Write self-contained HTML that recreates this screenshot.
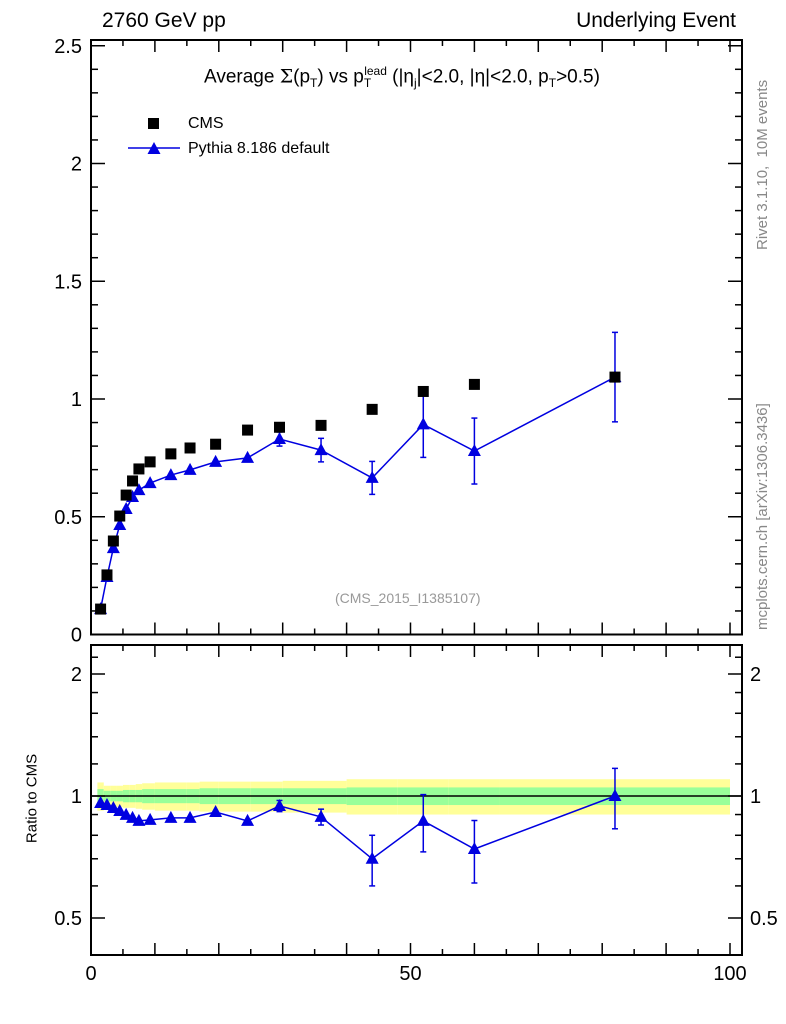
<!DOCTYPE html>
<html><head><meta charset="utf-8"><style>
body{margin:0;background:#fff;}
svg{display:block;font-family:"Liberation Sans",sans-serif;}
</style></head><body>
<svg id="c" width="786" height="1024"></svg>
<script>
const xVals=[1.5,2.5,3.5,4.5,5.5,6.5,7.5,9.25,12.5,15.5,19.5,24.5,29.5,36,44,52,60,82];
const cmsVals=[0.108,0.253,0.397,0.503,0.592,0.652,0.703,0.733,0.767,0.792,0.808,0.868,0.880,0.888,0.956,1.032,1.062,1.093];
const pyVals=[0.108,0.244,0.367,0.465,0.533,0.584,0.613,0.643,0.677,0.699,0.733,0.750,0.830,0.783,0.665,0.892,0.779,1.093];
const pyErr=[0,0,0,0,0,0,0,0,0,0,0,0,0.03,0.05,0.07,0.14,0.14,0.19];
const ratioVals=[0.961,0.950,0.934,0.918,0.898,0.883,0.868,0.873,0.883,0.883,0.913,0.868,0.945,0.888,0.70,0.868,0.74,1.0];
const ratioErr=[0,0,0,0,0,0,0,0,0,0,0,0,0.03,0.04,0.10,0.14,0.13,0.17];
const binEdges=[1,2,3,4,5,6,7,8,10,15,17,20,25,30,40,48,56,64,100];
const bandYel=[0.08,0.06,0.06,0.06,0.065,0.065,0.07,0.075,0.08,0.08,0.085,0.085,0.085,0.09,0.10,0.10,0.10,0.10];
const bandGrn=[0.04,0.03,0.03,0.03,0.035,0.035,0.035,0.04,0.04,0.04,0.045,0.045,0.045,0.045,0.05,0.05,0.05,0.05];
const mainTicks=[0.5,1,1.5,2,2.5];
const ratioTicks=[0.5,1,2];
const xTicks=[0,50,100];

const svg=document.getElementById('c');const NS='http://www.w3.org/2000/svg';
function mk(t,a,p){const e=document.createElementNS(NS,t);for(const k in a)e.setAttribute(k,a[k]);(p||svg).appendChild(e);return e;}
const L=91,R=742,MT=40,MB=634.5,RT=645,RB=955;
const X=v=>L+v*6.39;
const Y=v=>634.5-v*235.5;
const YR=v=>796-122*Math.log2(v);

const bands=mk('g',{});
for(let i=0;i<xVals.length;i++){
  const x1=X(binEdges[i]),x2=X(binEdges[i+1]);
  mk('rect',{x:x1,y:YR(1+bandYel[i]),width:x2-x1,height:YR(1-bandYel[i])-YR(1+bandYel[i]),fill:'#ffff99'},bands);
  mk('rect',{x:x1,y:YR(1+bandGrn[i]),width:x2-x1,height:YR(1-bandGrn[i])-YR(1+bandGrn[i]),fill:'#99ff99'},bands);
}
mk('line',{x1:L,x2:R,y1:YR(1),y2:YR(1),stroke:'#000','stroke-width':1.5});

for(const [t,b,n] of [[MT,MB,'main-frame'],[RT,RB,'ratio-frame']]){
  const r=mk('rect',{x:L,y:t,width:R-L,height:b-t,fill:'none',stroke:'#000','stroke-width':2});
  
}
for(let v=0;v<=100;v+=5){const maj=v%10==0;
  for(const yb of [MB,RB]){mk('line',{x1:X(v),x2:X(v),y1:yb,y2:yb-(maj?12:6),stroke:'#000','stroke-width':1.5});
  mk('line',{x1:X(v),x2:X(v),y1:yb===MB?MT:RT,y2:(yb===MB?MT:RT)+(maj?12:6),stroke:'#000','stroke-width':1.5});}
}
xTicks.forEach(v=>{const t=mk('text',{x:X(v),y:980,'text-anchor':'middle','font-size':20});t.textContent=v;
});
for(let v=0;v<=2.5001;v+=0.1){const maj=Math.abs(v*2-Math.round(v*2))<1e-6;
  mk('line',{x1:L,x2:L+(maj?14:7),y1:Y(v),y2:Y(v),stroke:'#000','stroke-width':1.5});
  mk('line',{x1:R,x2:R-(maj?14:7),y1:Y(v),y2:Y(v),stroke:'#000','stroke-width':1.5});}
mainTicks.concat([0]).forEach(v=>{const t=mk('text',{x:82,y:Y(v)+7,'text-anchor':'end','font-size':20});t.textContent=v;
});
[0.4,0.5,0.6,0.7,0.8,0.9,1,1.2,1.4,1.6,1.8,2,2.2].forEach(v=>{const y=YR(v);if(y<RT||y>RB)return;const maj=[0.5,1,2].includes(v);
  mk('line',{x1:L,x2:L+(maj?14:7),y1:y,y2:y,stroke:'#000','stroke-width':1.5});
  mk('line',{x1:R,x2:R-(maj?14:7),y1:y,y2:y,stroke:'#000','stroke-width':1.5});});
ratioTicks.forEach(v=>{for(const [x,a] of [[82,'end'],[750,'start']]){const t=mk('text',{x:x,y:YR(v)+7,'text-anchor':a,'font-size':20});t.textContent=v;
}});

const pm=mk('g',{});
mk('polyline',{points:xVals.map((x,i)=>X(x)+','+Y(pyVals[i])).join(' '),fill:'none',stroke:'#0000e0','stroke-width':1.5},pm);
const cg=mk('g',{});
xVals.forEach((x,i)=>mk('rect',{x:X(x)-5.5,y:Y(cmsVals[i])-5.5,width:11,height:11,fill:'#000'},cg));
function tri(g,x,y){mk('polygon',{points:`${x},${y-7} ${x-6.5},${y+5} ${x+6.5},${y+5}`,fill:'#0000e0'},g);}
function err(g,x,y1,y2){if(Math.abs(y2-y1)<2)return;mk('line',{x1:x,x2:x,y1:y1,y2:y2,stroke:'#0000e0','stroke-width':1.5},g);
mk('line',{x1:x-3,x2:x+3,y1:y1,y2:y1,stroke:'#0000e0','stroke-width':1.5},g);mk('line',{x1:x-3,x2:x+3,y1:y2,y2:y2,stroke:'#0000e0','stroke-width':1.5},g);}
xVals.forEach((x,i)=>{err(pm,X(x),Y(pyVals[i]+pyErr[i]),Y(pyVals[i]-pyErr[i]));tri(pm,X(x),Y(pyVals[i]));});
const rg=mk('g',{});
mk('polyline',{points:xVals.map((x,i)=>X(x)+','+YR(ratioVals[i])).join(' '),fill:'none',stroke:'#0000e0','stroke-width':1.5},rg);
xVals.forEach((x,i)=>{err(rg,X(x),YR(ratioVals[i]+ratioErr[i]),YR(ratioVals[i]-ratioErr[i]));tri(rg,X(x),YR(ratioVals[i]));});

mk('rect',{x:148,y:118,width:11,height:11,fill:'#000'});
mk('line',{x1:128,x2:180,y1:148,y2:148,stroke:'#0000e0','stroke-width':1.5});tri(svg,154,149);
</script>
<div style="position:absolute;left:0;top:0;width:786px;height:1024px;font-family:'Liberation Sans',sans-serif;pointer-events:none">
<div style="position:absolute;left:102px;top:9px;font-size:21px">2760 GeV pp</div>
<div style="position:absolute;right:50px;top:9px;font-size:21px">Underlying Event</div>
<div style="position:absolute;left:204px;top:64px;font-size:19px;white-space:nowrap">Average <span style="font-family:'DejaVu Serif',serif">Σ</span>(p<sub style="font-size:12px">T</sub>) vs p<sub style="font-size:12px">T</sub><sup style="font-size:12px;margin-left:-7px">lead</sup> (|η<sub style="font-size:12px">j</sub>|&lt;2.0, |η|&lt;2.0, p<sub style="font-size:12px">T</sub>&gt;0.5)</div>
<div style="position:absolute;left:188px;top:115px;font-size:16px">CMS</div>
<div style="position:absolute;left:188px;top:140px;font-size:16px">Pythia 8.186 default</div>
<div style="position:absolute;left:335px;top:590px;font-size:14px;color:#999">(CMS_2015_I1385107)</div>
<div style="position:absolute;left:-18px;top:790px;font-size:15px;transform:rotate(-90deg);transform-origin:center;width:100px;text-align:center">Ratio to CMS</div>
<div style="position:absolute;left:754px;top:250px;font-size:15px;color:#888;transform:rotate(-90deg);transform-origin:0 0;white-space:nowrap">Rivet 3.1.10, &nbsp;10M events</div>
<div style="position:absolute;left:754px;top:630px;font-size:15px;color:#888;transform:rotate(-90deg);transform-origin:0 0;white-space:nowrap">mcplots.cern.ch [arXiv:1306.3436]</div>
</div>
</body></html>
